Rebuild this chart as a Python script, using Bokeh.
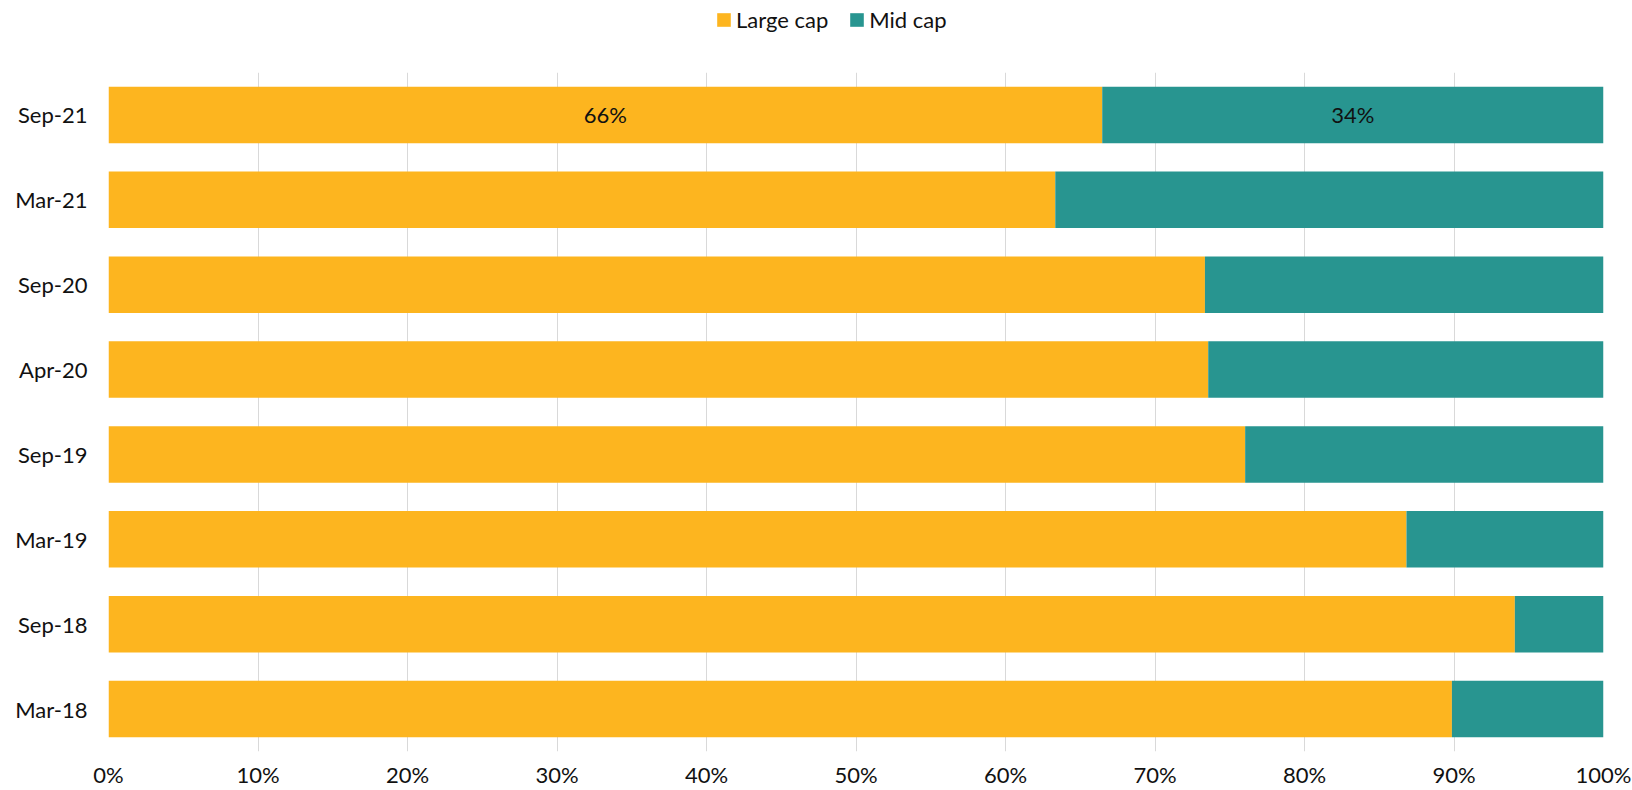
from bokeh.plotting import figure
from bokeh.models import ColumnDataSource, FactorRange, NumeralTickFormatter, FixedTicker, Legend, LegendItem, LabelSet
from bokeh.layouts import column
from bokeh.embed import file_html
from bokeh.resources import INLINE
from bokeh.core.properties import value

# ---- data ----
periods = ["Sep-21", "Mar-21", "Sep-20", "Apr-20", "Sep-19", "Mar-19", "Sep-18", "Mar-18"]
large_cap = [66.47, 63.33, 73.34, 73.56, 76.03, 86.82, 94.07, 89.86]
mid_cap = [100 - v for v in large_cap]
series_names = ["Large cap", "Mid cap"]
x_ticks = [0, 10, 20, 30, 40, 50, 60, 70, 80, 90, 100]
labelled_period = "Sep-21"

ORANGE = "#FDB51F"
TEAL = "#289590"
COLORS = [ORANGE, TEAL]
FONT = "Lato"
TXT = "#111111"

src = ColumnDataSource(dict(
    period=periods,
    large=[v / 100 for v in large_cap],
    mid=[v / 100 for v in mid_cap],
))

# ---- main chart ----
p = figure(
    width=1632, height=718,
    y_range=FactorRange(*reversed(periods), range_padding=0),
    x_range=(0, 1),
    output_backend="svg", toolbar_location=None,
    min_border_left=108, min_border_right=29, min_border_top=0, min_border_bottom=38,
)
p.outline_line_color = None

p.hbar_stack(["large", "mid"], y="period", height=0.667,
             color=COLORS, line_color=None, source=src)

# data labels only on the top bar
i = periods.index(labelled_period)
lv, mv = large_cap[i], mid_cap[i]
lab_src = ColumnDataSource(dict(
    x=[lv / 200, (lv + (lv + mv)) / 200],
    y=[labelled_period, labelled_period],
    t=[f"{round(lv)}%", f"{round(mv)}%"],
))
p.add_layout(LabelSet(x="x", y="y", text="t", source=lab_src,
                      text_align="center", text_baseline="middle",
                      text_font=value(FONT), text_font_size="22px", text_color=TXT))

p.xaxis.ticker = FixedTicker(ticks=[t / 100 for t in x_ticks])
p.xaxis.formatter = NumeralTickFormatter(format="0%")
for ax in (p.xaxis[0], p.yaxis[0]):
    ax.axis_line_color = None
    ax.major_tick_line_color = None
    ax.minor_tick_line_color = None
    ax.major_tick_out = 0
    ax.major_tick_in = 0
    ax.major_label_text_font = FONT
    ax.major_label_text_font_size = "22px"
    ax.major_label_text_color = TXT
p.xaxis.major_label_standoff = 9
p.yaxis.major_label_standoff = 21

p.xgrid.grid_line_color = "#D9D9D9"
p.xgrid.grid_line_width = 1
p.ygrid.grid_line_color = None

# ---- legend strip ----
lg = figure(width=1632, height=72, x_range=(0, 1), y_range=(0, 1),
            output_backend="svg", toolbar_location=None,
            min_border_left=0, min_border_right=0, min_border_top=0, min_border_bottom=0)
lg.axis.visible = False
lg.grid.visible = False
lg.outline_line_color = None
# swatch renderers kept outside the visible range; only their legend glyphs show
dummy = [lg.hbar(y=[-5], left=[0], right=[1], height=0.1, color=c, line_color=None) for c in COLORS]
legend = Legend(items=[LegendItem(label=n, renderers=[r]) for n, r in zip(series_names, dummy)],
                orientation="horizontal", location=(607, 39),
                label_text_font=FONT, label_text_font_size="22px", label_text_color=TXT,
                glyph_width=17, glyph_height=17, border_line_color=None,
                background_fill_alpha=0, spacing=20, padding=0, margin=0,
                label_standoff=4)
lg.add_layout(legend, "center")

open("out.html", "w").write(file_html(column(lg, p, spacing=0), INLINE))
